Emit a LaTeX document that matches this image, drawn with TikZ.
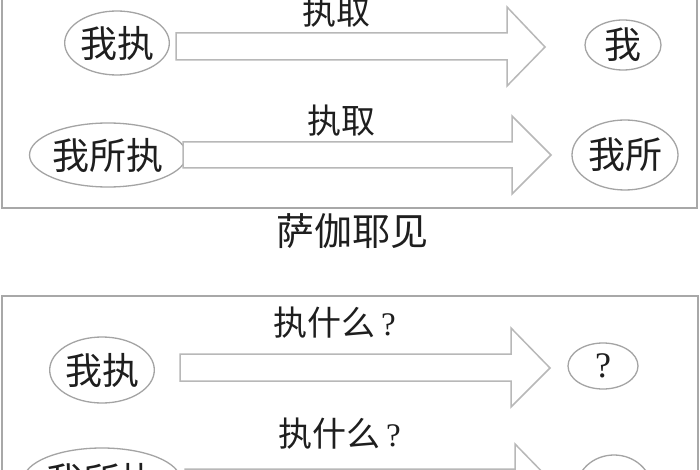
\documentclass[tikz,border=0pt]{standalone}
\usepackage{fontspec}
\setmainfont{Liberation Serif}
\newfontfamily\cjk{Noto Sans CJK SC}
\usetikzlibrary{shapes.geometric}
\definecolor{framegray}{HTML}{A8A8A8}
\definecolor{arrowgray}{HTML}{B8B8B8}
\definecolor{ellgray}{HTML}{A4A4A4}
\definecolor{inkcol}{HTML}{1E1E1E}
\tikzset{
  frame/.style={draw=framegray, line width=1.6pt},
  blockarrow/.style={draw=arrowgray, line width=1.5pt, fill=white, line join=miter},
  ell/.style={ellipse, draw=ellgray, line width=1.3pt, inner sep=0pt, text=inkcol},
  elltext/.style={font=\cjk\fontsize{37}{40}\selectfont},
  lbl/.style={inner sep=0pt, text=inkcol, font=\cjk\fontsize{34}{36}\selectfont},
  titlestyle/.style={inner sep=0pt, text=inkcol, font=\cjk\fontsize{38}{40}\selectfont}
}
% #1 shaft left x, #2 head start x, #3 tip x, #4 shaft top, #5 shaft bottom, #6 head top, #7 head bottom, #8 tip y
\newcommand\myblockarrow[8]{%
  \draw[blockarrow] (#1,#4) -- (#2,#4) -- (#2,#6) -- (#3,#8) -- (#2,#7) -- (#2,#5) -- (#1,#5) -- cycle;}
\newcommand\qmark{\hspace{6pt}{\rmfamily\fontsize{33}{34}\selectfont ?}}
\begin{document}
\begin{tikzpicture}[x=1pt,y=-1pt]
\useasboundingbox (0,0) rectangle (700,470);
\clip (0,0) rectangle (700,470);
\fill[white] (0,0) rectangle (700,470);
% frames
\draw[frame] (2,-20) rectangle (697,208);
\draw[frame] (2,296) rectangle (698,500);
% title
\node[titlestyle] (title) at (352,231) {萨伽耶见};
% row 1
\node[ell, minimum width=98pt, minimum height=64pt, elltext] (a1) at (117,43) {我执};
\myblockarrow{176}{507}{545}{33}{60}{7}{86}{47}
\node[lbl] (l1) at (336,12) {执取};
\node[ell, minimum width=76pt, minimum height=50pt, elltext] (b1) at (623,45) {我};
% row 2
\node[ell, minimum width=142pt, minimum height=64pt, elltext] (a2) at (108,155) {我所执};
\myblockarrow{183}{512}{551}{142}{168}{116}{194}{155}
\node[lbl] (l2) at (341,121) {执取};
\node[ell, minimum width=106pt, minimum height=70pt, elltext] (b2) at (625,155) {我所};
% row 3
\node[ell, minimum width=102pt, minimum height=66pt, elltext] (a3) at (102,370) {我执};
\myblockarrow{180}{511}{550}{354}{381}{328}{407}{368}
\node[lbl, anchor=west] (l3) at (273,323) {执什么\qmark};
\node[ell, minimum width=70pt, minimum height=46pt, font=\rmfamily\fontsize{36}{38}\selectfont] (b3) at (603,366) {?};
% row 4
\node[ell, minimum width=130pt, minimum height=64pt, elltext] (a4) at (102,480) {我所执};
\myblockarrow{185}{515}{553}{469}{496}{444}{522}{483}
\node[lbl, anchor=west] (l4) at (278,434) {执什么\qmark};
\node[ell, minimum width=76pt, minimum height=70pt] (b4) at (614,490) {};
\end{tikzpicture}
\end{document}
